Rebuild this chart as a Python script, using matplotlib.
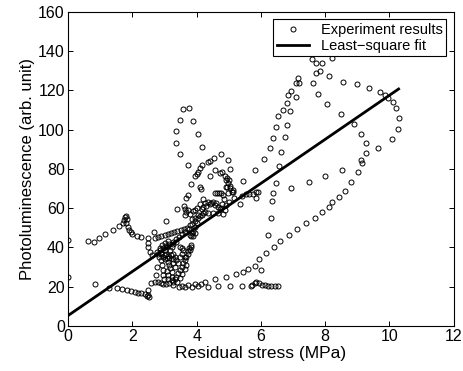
import matplotlib
matplotlib.use("Agg")
import matplotlib.pyplot as plt
import numpy as np

# Experiment results: (residual stress [MPa], photoluminescence [arb. unit])
left_points = [
    (0.00, 43.7), (0.00, 25.1),
    (0.62, 43.2), (0.81, 42.9), (0.96, 44.7), (1.14, 46.8), (1.38, 48.8), (1.58, 50.8),
    (1.69, 52.5), (1.73, 54.2), (1.76, 55.6), (1.79, 55.9), (1.84, 54.7), (1.79, 52.2),
    (1.85, 50.5), (1.89, 48.8), (1.94, 47.6), (2.00, 46.6), (2.13, 45.9), (2.26, 45.4),
    (0.84, 21.4), (1.27, 19.5), (1.53, 19.2), (1.68, 18.7), (1.82, 18.3), (1.94, 17.8),
    (2.08, 17.3), (2.18, 17.0), (2.28, 16.6), (2.39, 16.1), (2.46, 15.4), (2.52, 14.9),
    (2.49, 15.6), (2.47, 18.5),
]

cluster_points = [
    (2.49, 44.6), (2.49, 42.4), (2.49, 40.1), (2.56, 37.8), (2.62, 36.1), (2.68, 48.0),
    (2.70, 44.6), (2.80, 45.2), (2.90, 45.8), (3.00, 46.3), (3.10, 46.7), (3.20, 47.2),
    (3.30, 47.7), (3.40, 48.2), (3.50, 48.7), (3.60, 49.3), (3.70, 50.0), (3.80, 51.2),
    (3.04, 53.6), (3.38, 59.4), (3.63, 59.4), (3.68, 65.0), (3.74, 66.7), (3.62, 61.0),
    (2.75, 37.5), (2.85, 38.5), (2.95, 39.5), (3.05, 40.5), (3.15, 41.8), (3.25, 43.0),
    (3.35, 44.5), (3.45, 45.5), (3.55, 47.0), (3.65, 48.0), (3.75, 49.5), (3.85, 52.0),
    (3.95, 53.5), (4.05, 55.0), (4.15, 56.5), (4.25, 58.0),
    (3.80, 46.5), (3.85, 47.2), (3.90, 46.0), (3.95, 47.5), (3.82, 45.8), (3.88, 48.2),
    (3.94, 54.8), (4.00, 52.3), (3.94, 50.6), (4.05, 56.5), (4.20, 57.4), (4.36, 57.4),
    (4.51, 57.4), (4.67, 57.4), (4.82, 56.9), (4.88, 59.1), (4.77, 59.9), (4.67, 60.8),
    (4.57, 61.6), (4.46, 62.5), (4.36, 63.3), (4.25, 62.8), (4.20, 64.5), (4.10, 62.0),
    (4.00, 60.3), (3.94, 59.3), (3.89, 58.3), (3.84, 54.7), (3.79, 57.0), (3.74, 59.0),
    (3.68, 57.8), (3.63, 56.4), (4.15, 59.8), (4.30, 61.0), (4.41, 62.0), (4.51, 63.2),
    (4.60, 62.7), (4.72, 59.8), (4.10, 56.0), (4.20, 60.7),
    (2.59, 21.8), (2.70, 22.6), (2.80, 22.5), (2.88, 21.9), (2.96, 21.4), (2.98, 23.7),
    (2.96, 25.9), (2.94, 28.5), (2.92, 31.0), (2.88, 33.6), (2.83, 35.3), (2.80, 36.9),
    (2.75, 30.2), (2.72, 26.0), (2.90, 36.9), (3.00, 36.1), (3.06, 34.4), (3.10, 32.7),
    (3.14, 31.0), (3.18, 29.3), (3.22, 27.6), (3.22, 25.1), (3.22, 23.4), (3.27, 22.5),
    (3.32, 23.7), (3.37, 25.1), (3.42, 26.8), (3.48, 28.5), (3.53, 30.2), (3.58, 31.9),
    (3.63, 33.6), (3.68, 35.3), (3.74, 36.9), (3.79, 38.6), (3.81, 40.3), (3.77, 39.5),
    (3.72, 38.0), (3.81, 41.2), (3.27, 36.9), (3.32, 35.3), (3.37, 33.6), (3.42, 31.9),
    (3.48, 35.3), (3.53, 36.9), (3.58, 38.6), (3.27, 31.9), (3.32, 30.2), (3.06, 40.3),
    (3.01, 38.6), (2.90, 37.8), (2.85, 39.5), (2.93, 41.2), (3.01, 42.4), (3.11, 43.4),
    (3.37, 42.9), (3.48, 40.3), (3.53, 39.5), (3.63, 35.3), (3.68, 31.0), (3.63, 28.8),
    (3.55, 26.4), (3.48, 24.2), (3.40, 22.5), (3.27, 20.8), (3.16, 38.6), (3.22, 40.0),
    (3.27, 41.5), (3.06, 28.0), (3.10, 26.0), (3.12, 24.0), (3.15, 22.0), (3.05, 21.5),
    (2.95, 35.0), (3.00, 34.0), (3.05, 36.5), (3.10, 35.5), (3.15, 34.5), (3.20, 36.0),
    (3.25, 34.0),
]

bottom_points = [
    (3.45, 19.7), (3.53, 20.4), (3.63, 20.0), (3.74, 20.9), (3.84, 20.0), (3.94, 21.4),
    (4.05, 20.4), (4.13, 21.5), (4.25, 22.5), (4.36, 20.0), (4.57, 23.9), (4.65, 20.4),
    (4.90, 25.1), (5.03, 20.4), (5.23, 26.3), (5.40, 20.4), (5.45, 27.6), (5.60, 28.9),
    (5.69, 20.4), (5.81, 30.6), (6.00, 28.6), (5.94, 34.0),
    (5.71, 20.7), (5.81, 22.0), (5.86, 22.6), (5.94, 21.7), (6.02, 20.9), (6.12, 20.7),
    (6.23, 20.5), (6.33, 20.5), (6.43, 20.4), (6.52, 20.2),
]

middle_points = [
    (3.57, 110.5), (3.77, 111.1), (3.47, 104.9), (3.89, 104.4), (3.35, 99.1), (4.05, 97.6),
    (3.35, 93.3), (4.15, 91.0), (3.48, 87.7), (3.72, 81.8), (4.76, 87.6), (4.99, 84.7),
    (4.54, 85.5), (4.41, 84.2), (4.36, 83.7), (4.15, 82.0), (4.10, 80.3), (4.05, 78.6),
    (4.00, 77.4), (3.94, 76.4), (3.83, 72.1), (4.10, 70.8), (4.13, 69.6), (4.41, 76.4),
    (4.58, 79.4), (4.72, 78.1), (4.79, 78.3), (4.88, 76.4), (4.95, 75.2), (5.01, 74.3),
    (5.03, 79.9), (5.45, 74.0), (4.91, 70.8),
    (4.62, 67.6), (4.69, 67.6), (4.75, 67.6), (4.83, 66.7), (4.98, 67.6), (5.09, 68.4),
    (5.05, 70.1), (4.95, 70.9), (5.12, 69.0), (5.03, 71.5), (4.97, 72.9), (4.92, 74.2),
    (5.13, 68.3), (4.56, 67.5), (4.84, 64.4), (5.01, 63.2), (5.17, 65.0), (4.79, 62.0),
    (4.92, 61.8), (5.36, 62.0), (5.40, 66.0),
    (5.55, 67.2), (5.63, 67.2), (5.76, 67.2), (5.86, 68.1), (5.91, 68.2), (5.84, 65.0),
    (5.83, 79.4),
]

right_points = [
    (6.11, 85.0), (6.28, 90.6), (6.38, 95.9), (6.46, 101.4), (6.52, 106.8), (6.69, 110.0),
    (6.80, 113.4), (6.85, 117.6), (6.95, 119.8), (7.08, 123.6), (7.16, 126.4), (7.19, 123.9),
    (7.09, 116.8), (6.92, 109.6), (6.80, 102.3), (6.74, 96.1), (6.64, 88.4), (6.55, 81.5),
    (6.46, 72.7), (6.37, 67.6), (6.35, 63.8), (6.30, 55.0), (6.21, 46.3), (6.17, 37.2),
    (7.59, 135.8), (7.71, 133.8), (7.89, 133.8), (8.20, 136.6), (7.83, 130.0), (7.71, 128.7),
    (8.11, 127.4), (7.61, 123.6), (7.78, 118.1), (8.07, 112.9), (8.49, 107.8), (8.89, 102.7),
    (9.13, 97.6), (9.26, 93.0), (9.27, 87.9), (9.13, 84.5), (9.16, 83.1), (9.03, 78.3),
    (8.82, 73.5), (8.61, 68.7), (8.43, 65.8), (8.23, 63.3), (8.11, 60.4), (7.91, 57.9),
    (7.68, 55.0), (7.40, 52.4), (7.12, 49.5), (6.87, 46.3), (6.60, 43.3), (6.40, 40.2),
    (8.56, 124.4), (8.98, 123.1), (9.36, 121.0), (9.70, 119.3), (9.86, 117.6), (9.96, 115.9),
    (10.12, 114.2), (10.22, 110.8), (10.29, 105.8), (10.28, 100.3), (10.07, 95.2), (9.65, 90.5),
    (8.53, 79.4), (8.01, 76.2), (7.50, 73.2), (6.95, 70.4),
]

# least-square fit: PL = slope * stress + intercept
fit_slope = 11.2
fit_intercept = 5.4

points = np.array(left_points + cluster_points + bottom_points + middle_points + right_points)
stress = points[:, 0]
pl = points[:, 1]

plt.rcParams["font.family"] = ["Liberation Sans", "DejaVu Sans"]

fig = plt.figure(figsize=(4.63, 3.71), dpi=100)
ax = fig.add_axes([0.1475, 0.1213, 0.832, 0.8472])

ax.plot(stress, pl, linestyle="none", marker="o", markersize=3.6,
        markerfacecolor="none", markeredgecolor="black", markeredgewidth=0.7,
        label="Experiment results")

x_fit = np.array([0.0, stress.max()])
ax.plot(x_fit, fit_slope * x_fit + fit_intercept, color="black", linewidth=2.0,
        label="Least\u2212square fit")

ax.set_xlim(0, 12)
ax.set_ylim(0, 160)
ax.set_xticks(np.arange(0, 13, 2))
ax.set_yticks(np.arange(0, 161, 20))
ax.tick_params(direction="in", length=3.5, width=0.7, top=True, right=True,
               labelsize=11.5, pad=2.5)
for sp in ax.spines.values():
    sp.set_linewidth(0.8)

ax.set_xlabel("Residual stress (MPa)", fontsize=12.5, labelpad=1)
ax.set_ylabel("Photoluminescence (arb. unit)", fontsize=12, labelpad=2)

leg = ax.legend(loc="upper right", fontsize=10.5, frameon=True, fancybox=False,
                framealpha=1, edgecolor="black", borderpad=0.25, labelspacing=0.15,
                handlelength=2.2, borderaxespad=0.5, handletextpad=0.8)
leg.get_frame().set_linewidth(0.8)

fig.savefig("out.png", dpi=100)
plt.close(fig)
